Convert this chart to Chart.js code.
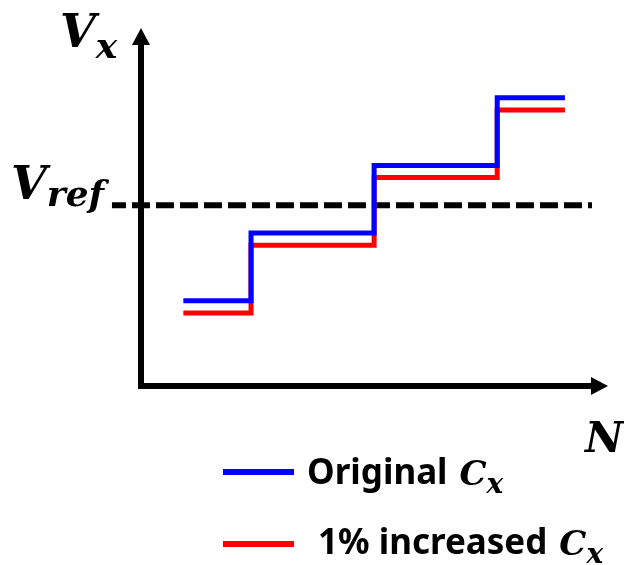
<!DOCTYPE html>
<html>
<head>
<meta charset="utf-8">
<script src="https://cdn.jsdelivr.net/npm/chart.js@4.4.0/dist/chart.umd.min.js"></script>
<style>
  html, body { margin: 0; padding: 0; background: #fff; }
  #wrap { width: 624px; height: 565px; position: relative; }
</style>
</head>
<body>
<div id="wrap"><canvas id="stepChart"></canvas></div>
<script>
// step edges along N and the level held on each step
const stepN = [0.45, 1, 2, 3, 3.55];
const originalV = [1, 2, 3, 4, 4];
const increasedV = [0.82, 1.82, 2.82, 3.82, 3.82];
// reference level, dashed line running across the V axis
const refN = [-0.13, 3.77];
const refV = 2.41;
// visible range of both axes
const nRange = [0.106, 3.9];
const vRange = [-0.26, 5.03];
const seriesNames = ['Original', '1% increased'];

const toPoints = (xs, ys) => xs.map((x, i) => ({ x, y: ys[i] }));

const mathFont = (size) => `italic bold ${size}px "DejaVu Serif"`;
const textFont = (size) => `bold ${size}px "Noto Sans"`;

// italic symbol with a lowered subscript, e.g. V_x
function drawSymbol(ctx, base, sub, x, y, size, subSize, drop, subGap) {
  ctx.font = mathFont(size);
  ctx.fillText(base, x, y);
  const w = ctx.measureText(base).width;
  ctx.font = mathFont(subSize);
  ctx.fillText(sub, x + w + subGap, y + drop);
}

// axes with arrow heads along the chart area edges
const arrowAxes = {
  id: 'arrowAxes',
  afterDatasetsDraw(chart) {
    const { ctx, chartArea: a } = chart;
    ctx.save();
    ctx.strokeStyle = '#000';
    ctx.fillStyle = '#000';
    ctx.lineWidth = 6;
    ctx.lineJoin = 'miter';
    ctx.beginPath();
    ctx.moveTo(a.left, a.top + 14);
    ctx.lineTo(a.left, a.bottom);
    ctx.lineTo(a.right - 14, a.bottom);
    ctx.stroke();
    ctx.beginPath();
    ctx.moveTo(a.left, a.top);
    ctx.lineTo(a.left - 9, a.top + 17);
    ctx.lineTo(a.left + 9, a.top + 17);
    ctx.closePath();
    ctx.fill();
    ctx.beginPath();
    ctx.moveTo(a.right, a.bottom);
    ctx.lineTo(a.right - 17, a.bottom - 9);
    ctx.lineTo(a.right - 17, a.bottom + 9);
    ctx.closePath();
    ctx.fill();
    ctx.restore();
  }
};

// axis names and the legend underneath
const labels = {
  id: 'labels',
  afterDraw(chart) {
    const { ctx } = chart;
    const ds = chart.data.datasets;
    ctx.save();
    ctx.fillStyle = '#000';
    ctx.textBaseline = 'alphabetic';
    ctx.textAlign = 'left';

    drawSymbol(ctx, 'V', 'x', 60, 47, 46, 36, 11, 0);
    drawSymbol(ctx, 'V', 'ref', 11, 199, 46, 36, 7, 0);
    ctx.font = mathFont(42);
    ctx.fillText('N', 585, 452);

    const rows = [
      { y: 472, text: seriesNames[0], tx: 307, ty: 484, color: ds[0].borderColor },
      { y: 544, text: seriesNames[1], tx: 318, ty: 554, color: ds[1].borderColor }
    ];
    rows.forEach(r => {
      ctx.strokeStyle = r.color;
      ctx.lineWidth = 6;
      ctx.beginPath();
      ctx.moveTo(223, r.y);
      ctx.lineTo(294, r.y);
      ctx.stroke();
      ctx.font = textFont(35);
      ctx.fillText(r.text, r.tx, r.ty);
      const w = ctx.measureText(r.text).width;
      drawSymbol(ctx, 'C', 'x', r.tx + w + 12, r.ty + 1, 34, 28, 8, 0);
    });
    ctx.restore();
  }
};

const ctx = document.getElementById('stepChart').getContext('2d');
const stepChart = new Chart(ctx, {
  type: 'line',
  data: {
    datasets: [
      {
        label: seriesNames[0],
        data: toPoints(stepN, originalV),
        borderColor: '#0000ff',
        borderWidth: 5,
        stepped: 'before',
        borderJoinStyle: 'miter',
        pointRadius: 0,
        fill: false
      },
      {
        label: seriesNames[1],
        data: toPoints(stepN, increasedV),
        borderColor: '#ff0000',
        borderWidth: 5,
        stepped: 'before',
        borderJoinStyle: 'miter',
        pointRadius: 0,
        fill: false
      },
      {
        label: 'Vref',
        data: refN.map(x => ({ x, y: refV })),
        borderColor: '#000',
        borderWidth: 6,
        borderDash: [18, 6],
        borderDashOffset: 4,
        pointRadius: 0,
        clip: false,
        fill: false
      }
    ]
  },
  options: {
    responsive: true,
    maintainAspectRatio: false,
    animation: false,
    events: [],
    layout: { padding: { left: 141, right: 16, top: 28, bottom: 179 } },
    scales: {
      x: { type: 'linear', min: nRange[0], max: nRange[1], display: false },
      y: { type: 'linear', min: vRange[0], max: vRange[1], display: false }
    },
    plugins: {
      legend: { display: false },
      tooltip: { enabled: false }
    }
  },
  plugins: [arrowAxes, labels]
});
</script>
</body>
</html>
